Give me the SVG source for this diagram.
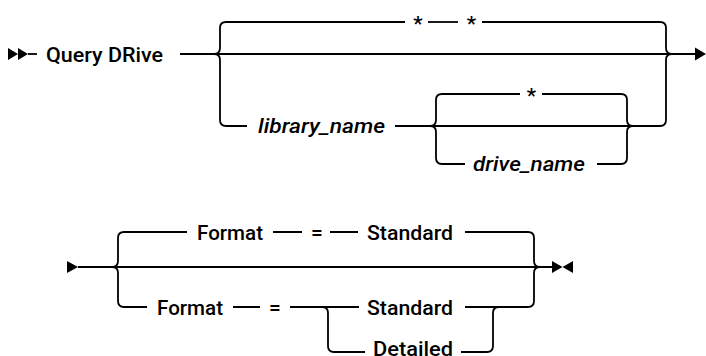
<svg xmlns="http://www.w3.org/2000/svg" width="706" height="356" viewBox="0 0 706 356">
<style>
.l{fill:none;stroke:#000;stroke-width:1.8}
.a{fill:#000;stroke:none}
.t{font-family:Roboto,"Liberation Sans",Arial,sans-serif;font-size:21px;font-weight:500;fill:#000}
.i{font-style:italic}
.c{text-anchor:middle}
</style>
<rect width="706" height="356" fill="#fff"/>
<g id="connectors">
<path class="a" d="M8,48 L18,54 L8,60 Z M18,48 L28,54 L18,60 Z"/>
<path class="l" d="M28,54 H37"/>
<path class="l" d="M180,54 H696"/>
<path class="a" d="M695,47.5 L706,54 L695,60.5 Z"/>
<path class="l" d="M214,54 Q220,54 220,48 V28 Q220,22 226,22 H405"/>
<path class="l" d="M214,54 Q220,54 220,60 V120 Q220,126 226,126 H247"/>
<path class="l" d="M428,22 H458"/>
<path class="l" d="M482,22 H660 Q666,22 666,28 V48 Q666,54 672,54"/>
<path class="l" d="M395,126 H660 Q666,126 666,120 V60 Q666,54 672,54"/>
<path class="l" d="M430,126 Q436,126 436,120 V100 Q436,94 442,94 H520"/>
<path class="l" d="M430,126 Q436,126 436,132 V158 Q436,164 442,164 H465"/>
<path class="l" d="M542,94 H621 Q627,94 627,100 V120 Q627,126 633,126"/>
<path class="l" d="M597,164 H621 Q627,164 627,158 V132 Q627,126 633,126"/>
<path class="a" d="M67,261 L78,267 L67,273 Z"/>
<path class="l" d="M78,267 H553"/>
<path class="a" d="M552,261 L562.5,267 L552,273 Z M573,261 L562.5,267 L573,273 Z"/>
<path class="l" d="M112,267 Q118,267 118,261 V238 Q118,232 124,232 H187"/>
<path class="l" d="M112,267 Q118,267 118,273 V301 Q118,307 124,307 H147"/>
<path class="l" d="M273,232 H302 M330,232 H358"/>
<path class="l" d="M465,232 H528 Q534,232 534,238 V261 Q534,267 540,267"/>
<path class="l" d="M233,307 H260 M290,307 H359"/>
<path class="l" d="M465,307 H528 Q534,307 534,301 V273 Q534,267 540,267"/>
<path class="l" d="M322,307 Q328,307 328,313 V346 Q328,352 334,352 H365"/>
<path class="l" d="M461,352 H487 Q493,352 493,346 V313 Q493,307 499,307"/>
</g>
<g id="query-drive"><text class="t" x="46" y="62" textLength="117" lengthAdjust="spacingAndGlyphs">Query DRive</text></g>
<g id="star-1"><text class="t c" x="418" y="31">*</text></g>
<g id="star-2"><text class="t c" x="471.5" y="31">*</text></g>
<g id="library-name"><text class="t i" x="258" y="133" textLength="127" lengthAdjust="spacingAndGlyphs">library_name</text></g>
<g id="star-3"><text class="t c" x="531.5" y="103">*</text></g>
<g id="drive-name"><text class="t i" x="473" y="171" textLength="112" lengthAdjust="spacingAndGlyphs">drive_name</text></g>
<g id="format-1"><text class="t" x="197" y="239.5" textLength="66" lengthAdjust="spacingAndGlyphs">Format</text></g>
<g id="eq-1"><text class="t c" x="317" y="239.5">=</text></g>
<g id="standard-1"><text class="t" x="367" y="239.5" textLength="86" lengthAdjust="spacingAndGlyphs">Standard</text></g>
<g id="format-2"><text class="t" x="157" y="314.5" textLength="66" lengthAdjust="spacingAndGlyphs">Format</text></g>
<g id="eq-2"><text class="t c" x="275" y="314.5">=</text></g>
<g id="standard-2"><text class="t" x="367" y="314.5" textLength="86" lengthAdjust="spacingAndGlyphs">Standard</text></g>
<g id="detailed"><text class="t" x="373" y="355.5" textLength="80" lengthAdjust="spacingAndGlyphs">Detailed</text></g>
</svg>
